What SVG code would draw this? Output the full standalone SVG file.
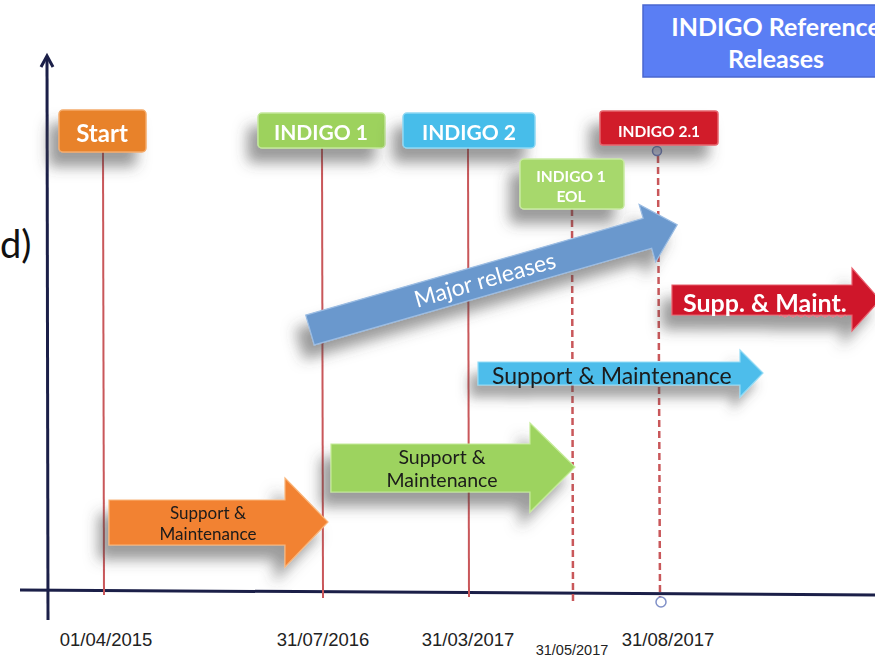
<svg xmlns="http://www.w3.org/2000/svg" width="875" height="658" viewBox="0 0 875 658">
<defs>
<filter id="sh" x="-50%" y="-80%" width="200%" height="300%">
<feDropShadow dx="-10" dy="14" stdDeviation="7" flood-color="#4a4a4a" flood-opacity="0.55"/>
</filter>
<filter id="shs" x="-50%" y="-80%" width="200%" height="300%">
<feDropShadow dx="-8" dy="12" stdDeviation="6" flood-color="#4a4a4a" flood-opacity="0.5"/>
</filter>
</defs>
<style>
.lbl{font-family:Lato,"Open Sans","Liberation Sans",sans-serif;font-weight:bold;fill:#fff;text-anchor:middle}
.dark{font-family:Lato,"Open Sans","Liberation Sans",sans-serif;fill:#1a1a1a;text-anchor:middle}
.date{font-family:"Liberation Sans",Arial,sans-serif;fill:#222;text-anchor:middle}
.vl{stroke:#c9575a;stroke-width:2;fill:none}
.dl{stroke:#c9575a;stroke-width:2.5;stroke-dasharray:7 4;fill:none}
.ax{stroke:#1b1f48;stroke-width:3;fill:none}
</style>
<rect width="875" height="658" fill="#ffffff"/>

<text x="0" y="258" font-family="Lato,'Open Sans',sans-serif" font-size="38" fill="#111">d)</text>

<g id="connectors">
<line class="ax" x1="47" y1="58" x2="48" y2="620"/>
<polyline class="ax" points="41,67 47,56 53,67" stroke-width="2.5"/>
<line class="ax" x1="20" y1="590" x2="875" y2="595"/>
<line class="vl" x1="103" y1="152" x2="104" y2="595"/>
<line class="vl" x1="322" y1="148" x2="323" y2="598"/>
<line class="vl" x1="468" y1="148" x2="469" y2="597"/>
<line class="dl" x1="572" y1="209" x2="573" y2="603"/>
<line class="dl" x1="658" y1="156" x2="660" y2="597"/>
<circle cx="657" cy="151" r="4.5" fill="#cdd4f0" stroke="#6b7bbf" stroke-width="1.5"/>
<circle cx="661" cy="602" r="5" fill="#ffffff" stroke="#8090c8" stroke-width="1.5"/>
</g>

<g id="ref-box">
<rect x="643" y="5" width="260" height="72" fill="#5a7ef4" stroke="#4a67cf" stroke-width="1.5"/>
<text class="lbl" x="776" y="36" font-size="25">INDIGO Reference</text>
<text class="lbl" x="776" y="68" font-size="25">Releases</text>
</g>

<g id="start" filter="url(#sh)">
<rect x="59" y="110" width="87" height="42" rx="4" fill="#e8822b" stroke="#f3ab6b" stroke-width="1.5"/>
<text class="lbl" x="102" y="142" font-size="24">Start</text>
</g>

<g id="indigo1" filter="url(#sh)">
<rect x="258" y="113" width="127" height="35" rx="4" fill="#9dd25d" stroke="#c3e79a" stroke-width="1.5"/>
<text class="lbl" x="321" y="140" font-size="21">INDIGO 1</text>
</g>

<g id="indigo2" filter="url(#sh)">
<rect x="403" y="113" width="132" height="35" rx="4" fill="#47bdea" stroke="#8fd8f3" stroke-width="1.5"/>
<text class="lbl" x="469" y="140" font-size="21">INDIGO 2</text>
</g>

<g id="indigo21" filter="url(#sh)">
<rect x="600" y="111" width="118" height="34" rx="3" fill="#d11d2a" stroke="#e5646c" stroke-width="1.5"/>
<text class="lbl" x="659" y="137" font-size="15.5">INDIGO 2.1</text>
</g>

<g id="indigo1-eol" filter="url(#sh)">
<rect x="520" y="159" width="104" height="50" rx="4" fill="#a7d86c" stroke="#c9eaa3" stroke-width="1.5"/>
<text class="lbl" x="571" y="182" font-size="15.5">INDIGO 1</text>
<text class="lbl" x="571" y="202" font-size="15.5">EOL</text>
</g>

<g id="major-releases" filter="url(#sh)">
<g transform="translate(310,330) rotate(-16)">
<path d="M0,-15.5 L351,-15.5 L351,-30 L382,0 L351,30 L351,15.5 L0,15.5 Z" fill="#6a98cd" stroke="#9cbde3" stroke-width="1.2"/>
<text class="lbl" x="182" y="8" font-size="23" style="font-weight:normal">Major releases</text>
</g>
</g>

<g id="supp-maint-red" filter="url(#sh)">
<path d="M672,285 L852,285 L852,268 L880,300 L852,331 L852,315 L672,315 Z" fill="#cf1329" stroke="#e8606d" stroke-width="1.2"/>
<text class="lbl" x="683" y="312" font-size="25" style="text-anchor:start">Supp. &amp; Maint.</text>
<path d="M779,316 q2,-2 4,0 t4,0 t4,0 t4,0 t4,0 t4,0 t4,0 t4,0 t4,0 t4,0 t4,0 t4,0 t4,0 t4,0 t4,0 t4,0 t4,0" fill="none" stroke="#f07080" stroke-width="1"/>
</g>

<g id="support-blue" filter="url(#shs)">
<path d="M478,362 L740,362 L740,350 L763,373 L740,397 L740,385 L478,385 Z" fill="#4dbdeb" stroke="#93dbf5" stroke-width="1.2"/>
<text class="dark" x="492" y="384" font-size="23" style="text-anchor:start">Support &amp; Maintenance</text>
</g>

<g id="support-green" filter="url(#sh)">
<path d="M331,444 L530,444 L530,423 L575,467 L530,512 L530,492 L331,492 Z" fill="#9dd35e" stroke="#c4eb97" stroke-width="1.2"/>
<text class="dark" x="442" y="464" font-size="19.5">Support &amp;</text>
<text class="dark" x="442" y="487" font-size="19.5">Maintenance</text>
</g>

<g id="support-orange" filter="url(#sh)">
<path d="M109,500 L285,500 L285,478 L328,522 L285,567 L285,545 L109,545 Z" fill="#f28232" stroke="#f9b57a" stroke-width="1.2"/>
<text class="dark" x="208" y="519" font-size="17">Support &amp;</text>
<text class="dark" x="208" y="540" font-size="17">Maintenance</text>
</g>

<g id="dates">
<text class="date" x="106" y="646" font-size="18.5">01/04/2015</text>
<text class="date" x="323" y="646" font-size="18.5">31/07/2016</text>
<text class="date" x="468" y="646" font-size="18.5">31/03/2017</text>
<text class="date" x="572" y="655" font-size="14.5">31/05/2017</text>
<text class="date" x="668" y="646" font-size="18.5">31/08/2017</text>
</g>
</svg>
